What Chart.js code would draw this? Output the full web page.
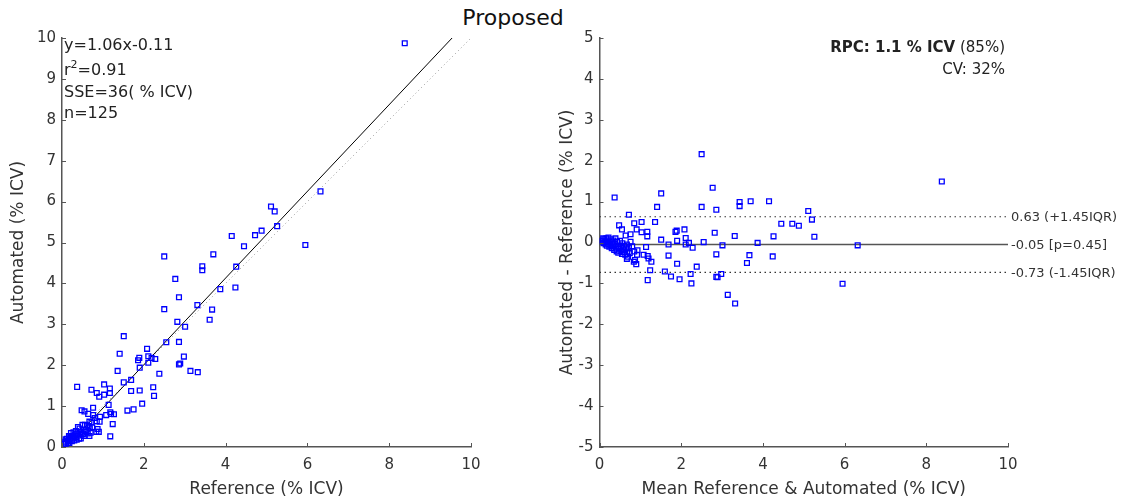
<!DOCTYPE html>
<html>
<head>
<meta charset="utf-8">
<script src="https://cdn.jsdelivr.net/npm/chart.js@4.4.1/dist/chart.umd.min.js"></script>
<style>
  body { margin: 0; background: #fff; width: 1123px; height: 500px; overflow: hidden; position: relative; }
  #title { position: absolute; left: 413px; top: 5px; width: 200px; text-align: center;
           font: 22px "DejaVu Sans", sans-serif; color: #111; }
  canvas { position: absolute; top: 0; }
  #left { left: 0; }
  #right { left: 540px; }
</style>
</head>
<body>
<div id="title">Proposed</div>
<canvas id="left" width="540" height="500"></canvas>
<canvas id="right" width="583" height="500"></canvas>
<script>
// reference volumes (% ICV), automated volumes, and automated - reference
const refVals = [2.50, 2.77, 0.37, 1.51, 1.41, 2.50, 2.86, 3.43, 3.43, 3.70, 4.15, 0.72, 0.48, 0.55, 0.85, 0.91,
  1.03, 1.36, 0.76, 0.64, 1.17, 1.17, 1.03, 1.51, 1.86, 1.89, 2.08, 1.90, 2.11, 2.11, 2.19, 2.28, 1.69, 2.55,
  2.82, 2.86, 3.01, 3.31, 3.87, 4.26, 4.45, 4.72, 4.88, 3.67, 3.61, 4.24, 2.86, 2.89, 2.98, 3.14, 3.32, 2.38,
  2.23, 2.25, 1.96, 1.90, 1.75, 1.60, 1.69, 1.24, 1.18, 1.27, 1.18, 1.20, 1.14, 1.08, 0.87, 0.84, 0.90, 0.92,
  0.93, 0.67, 0.80, 0.76, 0.85, 5.11, 5.20, 5.26, 6.32, 5.95, 8.38,
  0.05, 0.08, 0.09, 0.10, 0.12, 0.14, 0.15, 0.17, 0.18, 0.20, 0.21, 0.22, 0.24, 0.25, 0.27, 0.28, 0.30, 0.31,
  0.33, 0.34, 0.36, 0.37, 0.39, 0.40, 0.42, 0.43, 0.45, 0.46, 0.48, 0.50, 0.51, 0.53, 0.55, 0.56, 0.58, 0.60,
  0.61, 0.63, 0.65, 0.67, 0.68, 0.70, 0.72, 0.74];
const autoVals = [4.66, 4.11, 1.47, 2.71, 2.28, 3.37, 3.66, 4.42, 4.32, 4.71, 5.16, 1.40, 0.90, 0.87, 1.32, 1.23,
  1.53, 1.86, 0.96, 0.81, 1.43, 1.32, 1.28, 1.58, 2.12, 2.18, 2.40, 1.94, 2.22, 2.06, 2.18, 2.15, 1.64, 2.56,
  3.06, 2.57, 2.94, 3.47, 3.86, 4.41, 4.91, 5.18, 5.29, 3.36, 3.11, 3.90, 2.02, 2.04, 2.21, 1.86, 1.83, 1.79,
  1.46, 1.25, 1.06, 1.38, 0.92, 0.89, 1.37, 0.56, 0.26, 0.80, 0.85, 0.81, 1.03, 0.78, 0.44, 0.37, 0.37, 0.62,
  0.74, 0.27, 0.71, 0.78, 0.63, 5.88, 5.76, 5.40, 6.25, 4.94, 9.87,
  0.08, 0.13, 0.19, 0.08, 0.20, 0.16, 0.10, 0.27, 0.10, 0.25, 0.18, 0.34, 0.14, 0.27, 0.21, 0.36, 0.16, 0.31,
  0.24, 0.39, 0.18, 0.33, 0.49, 0.28, 0.20, 0.45, 0.37, 0.21, 0.33, 0.54, 0.31, 0.42, 0.27, 0.54, 0.41, 0.37,
  0.53, 0.33, 0.51, 0.62, 0.46, 0.35, 0.60, 0.48];
const diffVals = [2.16, 1.34, 1.10, 1.20, 0.87, 0.87, 0.80, 0.99, 0.89, 1.01, 1.01, 0.68, 0.42, 0.32, 0.47, 0.32,
  0.50, 0.50, 0.20, 0.17, 0.26, 0.15, 0.25, 0.07, 0.26, 0.29, 0.32, 0.04, 0.11, -0.05, -0.01, -0.13, -0.05, 0.01,
  0.24, -0.29, -0.07, 0.16, -0.01, 0.15, 0.46, 0.46, 0.41, -0.31, -0.50, -0.34, -0.84, -0.85, -0.77, -1.28, -1.49, -0.59,
  -0.77, -1.00, -0.90, -0.52, -0.83, -0.71, -0.32, -0.68, -0.92, -0.47, -0.33, -0.39, -0.11, -0.30, -0.43, -0.47, -0.53, -0.30,
  -0.19, -0.40, -0.09, 0.02, -0.22, 0.77, 0.56, 0.14, -0.07, -1.01, 1.49,
  0.03, 0.05, 0.10, -0.02, 0.08, 0.02, -0.05, 0.10, -0.08, 0.05, -0.03, 0.12, -0.10, 0.02, -0.06, 0.08, -0.14, 0.00,
  -0.09, 0.05, -0.18, -0.04, 0.10, -0.12, -0.22, 0.02, -0.08, -0.25, -0.15, 0.04, -0.20, -0.11, -0.28, -0.02, -0.17, -0.23,
  -0.08, -0.30, -0.14, -0.05, -0.22, -0.35, -0.12, -0.26];

// regression fit and Bland-Altman lines
const fitSlope = 1.06;
const fitIntercept = -0.11;
const fitRange = [0.104, 9.54];
const identityRange = [0, 10];
const baMean = -0.05;
const baUpper = 0.63;
const baLower = -0.73;
const baLabels = ['0.63 (+1.45IQR)', '-0.05 [p=0.45]', '-0.73 (-1.45IQR)'];
const leftNotes = ['y=1.06x-0.11', 'r2=0.91', 'SSE=36( % ICV)', 'n=125'];
const rpcText = ['RPC: 1.1 % ICV', ' (85%)'];
const cvText = 'CV: 32%';

const FONT = '"DejaVu Sans", sans-serif';
const AXIS = '#555';
const TEXT = '#333';

const scatterStyle = {
  pointStyle: 'rect', pointRadius: 3.4, pointHoverRadius: 3.4, pointBorderWidth: 1.3,
  borderColor: '#0000ff', backgroundColor: 'rgba(0,0,0,0)', showLine: false
};

// matlab style ticks pointing into the plot
const inwardTicks = {
  id: 'inwardTicks',
  afterDraw(chart) {
    const { ctx, chartArea, scales } = chart;
    ctx.save();
    ctx.strokeStyle = AXIS;
    ctx.lineWidth = 1;
    ctx.beginPath();
    scales.x.ticks.forEach(t => {
      const px = Math.round(scales.x.getPixelForValue(t.value)) + 0.5;
      ctx.moveTo(px, chartArea.bottom);
      ctx.lineTo(px, chartArea.bottom - 4);
    });
    scales.y.ticks.forEach(t => {
      const py = Math.round(scales.y.getPixelForValue(t.value)) + 0.5;
      ctx.moveTo(chartArea.left, py);
      ctx.lineTo(chartArea.left + 4, py);
    });
    ctx.stroke();
    ctx.restore();
  }
};

function axisOpts(min, max, step, title, yWidth, xHeight, yTitlePad) {
  return {
    x: {
      type: 'linear', min: 0, max: 10,
      afterFit: s => { s.height = xHeight; },
      border: { color: AXIS, width: 1.5 },
      grid: { display: true, drawOnChartArea: false, drawTicks: false },
      ticks: { stepSize: 2, padding: 9, color: TEXT, font: { family: FONT, size: 15 } },
      title: { display: true, text: title[0], color: TEXT, padding: { top: 2, bottom: 0 }, font: { family: FONT, size: 17 } }
    },
    y: {
      type: 'linear', min: min, max: max,
      afterFit: s => { s.width = yWidth; },
      border: { color: AXIS, width: 1.5 },
      grid: { display: true, drawOnChartArea: false, drawTicks: false },
      ticks: { stepSize: step, padding: 6, color: TEXT, font: { family: FONT, size: 15 } },
      title: { display: true, text: title[1], color: TEXT, padding: { top: yTitlePad, bottom: 4 }, font: { family: FONT, size: 17 } }
    }
  };
}

const leftNotesPlugin = {
  id: 'leftNotes',
  afterDraw(chart) {
    const { ctx, chartArea } = chart;
    ctx.save();
    ctx.fillStyle = '#222';
    ctx.textBaseline = 'middle';
    ctx.font = '16px ' + FONT;
    const x0 = chartArea.left + 2;
    const ys = [46, 71, 93, 114];
    leftNotes.forEach((t, i) => {
      if (i === 1) {
        ctx.fillText('r', x0, ys[i]);
        const w = ctx.measureText('r').width;
        ctx.font = '11px ' + FONT;
        ctx.fillText('2', x0 + w, ys[i] - 6);
        const w2 = ctx.measureText('2').width;
        ctx.font = '16px ' + FONT;
        ctx.fillText(t.slice(2), x0 + w + w2, ys[i]);
      } else {
        ctx.fillText(t, x0, ys[i]);
      }
    });
    ctx.restore();
  }
};

const rightNotesPlugin = {
  id: 'rightNotes',
  afterDraw(chart) {
    const { ctx, chartArea, scales } = chart;
    ctx.save();
    ctx.fillStyle = '#222';
    ctx.textBaseline = 'middle';
    ctx.textAlign = 'left';
    const xr = chartArea.right - 3;
    ctx.font = '15px ' + FONT;
    const wn = ctx.measureText(rpcText[1]).width;
    ctx.font = 'bold 15px ' + FONT;
    const wb = ctx.measureText(rpcText[0]).width;
    ctx.fillText(rpcText[0], xr - wn - wb, 48);
    ctx.font = '15px ' + FONT;
    ctx.fillText(rpcText[1], xr - wn, 48);
    ctx.textAlign = 'right';
    ctx.fillText(cvText, xr, 70);
    ctx.textAlign = 'left';
    ctx.font = '13px ' + FONT;
    ctx.fillStyle = TEXT;
    [baUpper, baMean, baLower].forEach((v, i) => {
      ctx.fillText(baLabels[i], chartArea.right + 3, scales.y.getPixelForValue(v) + 1);
    });
    ctx.restore();
  }
};

new Chart('left', {
  type: 'scatter',
  data: {
    datasets: [
      Object.assign({ data: refVals.map((r, i) => ({ x: r, y: autoVals[i] })) }, scatterStyle),
      {
        data: fitRange.map(x => ({ x: x, y: fitSlope * x + fitIntercept })),
        showLine: true, borderColor: '#000', borderWidth: 1, pointRadius: 0
      },
      {
        data: identityRange.map(x => ({ x: x, y: x })),
        showLine: true, borderColor: '#999', borderWidth: 1, borderDash: [1, 3], pointRadius: 0
      }
    ]
  },
  options: {
    responsive: false, animation: false,
    layout: { padding: { left: 0, right: 540 - 471, top: 38, bottom: 0 } },
    plugins: { legend: { display: false }, tooltip: { enabled: false } },
    scales: axisOpts(0, 10, 1, ['Reference (% ICV)', 'Automated (% ICV)'], 62, 53, 8)
  },
  plugins: [inwardTicks, leftNotesPlugin]
});

new Chart('right', {
  type: 'scatter',
  data: {
    datasets: [
      Object.assign({ data: refVals.map((r, i) => ({ x: r, y: diffVals[i] })) }, scatterStyle),
      {
        data: identityRange.map(x => ({ x: x, y: baMean })),
        showLine: true, borderColor: '#555', borderWidth: 1.5, pointRadius: 0
      },
      {
        data: identityRange.map(x => ({ x: x, y: baUpper })),
        showLine: true, borderColor: '#333', borderWidth: 1.2, borderDash: [1.5, 3.5], pointRadius: 0
      },
      {
        data: identityRange.map(x => ({ x: x, y: baLower })),
        showLine: true, borderColor: '#333', borderWidth: 1.2, borderDash: [1.5, 3.5], pointRadius: 0
      }
    ]
  },
  options: {
    responsive: false, animation: false,
    layout: { padding: { left: 0, right: 583 - 468, top: 38, bottom: 0 } },
    plugins: { legend: { display: false }, tooltip: { enabled: false } },
    scales: axisOpts(-5, 5, 1, ['Mean Reference & Automated (% ICV)', 'Automated - Reference (% ICV)'], 59.5, 53, 17)
  },
  plugins: [inwardTicks, rightNotesPlugin]
});
</script>
</body>
</html>
